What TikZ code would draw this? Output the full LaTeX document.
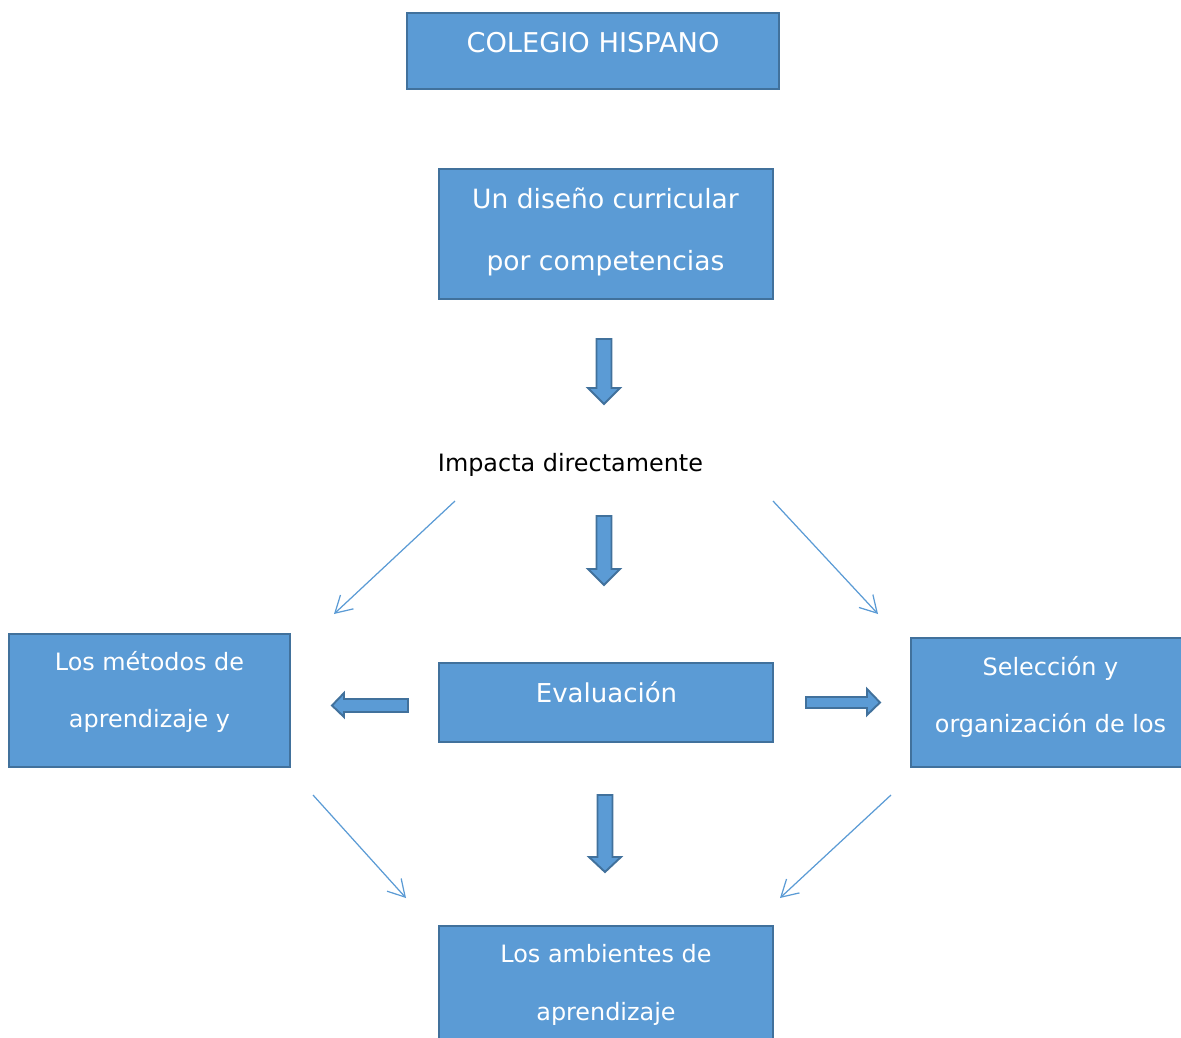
\documentclass[tikz,border=0pt]{standalone}
\usepackage{fontspec}
\setmainfont{DejaVu Sans}
\usepackage{tikz}
\usetikzlibrary{arrows.meta, fit}
\usepackage{xcolor}
\definecolor{azulCaja}{HTML}{5B9BD5}
\definecolor{azulBorde}{HTML}{41719C}
\newcommand{\flechaBaja}[4]{
\filldraw[flechona] (#1-7.5,#2) -- (#1+7.5,#2) -- (#1+7.5,#3) -- (#1+16,#3) -- (#1,#4) -- (#1-16,#3) -- (#1-7.5,#3) -- cycle;
}
\begin{document}
\begin{tikzpicture}[x = 0.02cm, y = -0.02cm,
    caja/.style = {draw = azulBorde, fill = azulCaja, line width = 1.3pt, inner sep = 0pt},
    flechona/.style = {draw = azulBorde, fill = azulCaja, line width = 1.1pt, line join = miter},
    flechita/.style = {draw = azulCaja, line width = 0.7pt, -{Straight Barb[length = 3.3mm, width = 3.8mm]}},
    texto/.style = {text = white, anchor = base, inner sep = 0pt, align = center}]
    % Margini
    \useasboundingbox (0,0) rectangle (1181,1038);
    \clip (0,0) rectangle (1181,1038);
    % Caselle
    \node[caja, fit = {(407,13) (779,89)}] (colegio) {};
    \node[caja, fit = {(439,169) (773,299)}] (diseno) {};
    \node[caja, fit = {(9,634) (290,767)}] (metodos) {};
    \node[caja, fit = {(439,663) (773,742)}] (evaluacion) {};
    \node[caja, fit = {(911,638) (1200,767)}] (seleccion) {};
    \node[caja, fit = {(439,926) (773,1060)}] (ambientes) {};
    % Testi (ancora sulla base dell'ultima riga)
    \node[texto, font = {\fontsize{15.5}{35.1}\selectfont}] (tColegio) at (593,52) {COLEGIO HISPANO};
    \node[texto, font = {\fontsize{15.1}{35.1}\selectfont}] (tDiseno) at (605.5,270) {Un diseño curricular\\por competencias};
    \node[texto, text = black, font = {\fontsize{13.6}{16}\selectfont}] (tImpacta) at (570.5,471) {Impacta directamente};
    \node[texto, font = {\fontsize{13.6}{32.3}\selectfont}] (tMetodos) at (149.5,727) {Los métodos de\\aprendizaje y};
    \node[texto, font = {\fontsize{14.8}{17}\selectfont}] (tEvaluacion) at (606.5,702) {Evaluación};
    \node[texto, font = {\fontsize{13.6}{32.3}\selectfont}] (tSeleccion) at (1050.5,732) {Selección y\\organización de los};
    \node[texto, font = {\fontsize{13.6}{32.9}\selectfont}] (tAmbientes) at (606,1020) {Los ambientes de\\aprendizaje};
    % Frecce grandi
    \flechaBaja{604}{339}{388}{404}
    \flechaBaja{604}{516}{569}{585}
    \flechaBaja{605}{795}{857}{872}
    \filldraw[flechona] (408,699) -- (408,712) -- (344,712) -- (344,717) -- (332,705.5) -- (344,693) -- (344,699) -- cycle;
    \filldraw[flechona] (806,697) -- (806,708) -- (867,708) -- (867,715) -- (880,702.5) -- (867,689) -- (867,697) -- cycle;
    % Frecce sottili
    \coordinate (a1) at (455,501);
    \coordinate (b1) at (334,614);
    \coordinate (a2) at (773,501);
    \coordinate (b2) at (878,614);
    \coordinate (a3) at (313,795);
    \coordinate (b3) at (406,898);
    \coordinate (a4) at (891,795);
    \coordinate (b4) at (780,898);
    \draw[flechita] (a1) -- (b1);
    \draw[flechita] (a2) -- (b2);
    \draw[flechita] (a3) -- (b3);
    \draw[flechita] (a4) -- (b4);
\end{tikzpicture}
\end{document}
